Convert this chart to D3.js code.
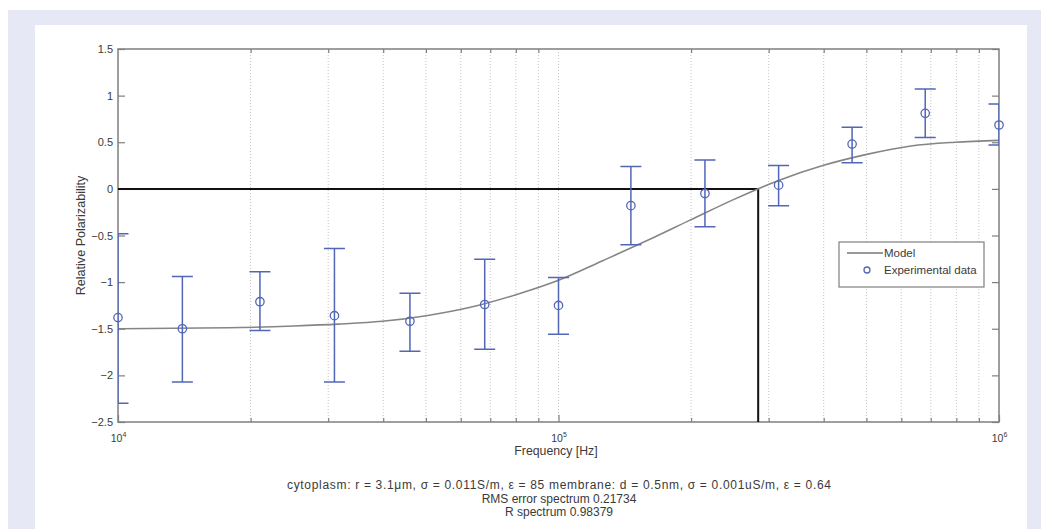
<!DOCTYPE html>
<html>
<head>
<meta charset="utf-8">
<script src="https://cdn.jsdelivr.net/npm/d3@7"></script>
<style>
  html, body { margin: 0; padding: 0; background: #fff; }
  svg { display: block; font-family: "Liberation Sans", Arial, sans-serif; }
</style>
</head>
<body>
<div id="app"></div>
<script>
// experimental points (frequency in Hz, relative polarizability, error bar ends)
const expFreq = [1e4, 1.4e4, 2.1e4, 3.1e4, 4.6e4, 6.8e4, 1e5, 1.46e5, 2.15e5, 3.16e5, 4.64e5, 6.8e5, 1e6]
const expValue = [-1.38, -1.5, -1.21, -1.36, -1.42, -1.24, -1.25, -0.18, -0.05, 0.04, 0.48, 0.81, 0.685]
const expHigh = [-0.48, -0.94, -0.89, -0.64, -1.12, -0.755, -0.95, 0.24, 0.31, 0.25, 0.66, 1.07, 0.91]
const expLow = [-2.3, -2.07, -1.52, -2.07, -1.74, -1.72, -1.56, -0.6, -0.405, -0.18, 0.28, 0.55, 0.47]

// model curve
const modelFreq = [1e4, 1.78e4, 2.51e4, 3.16e4, 3.98e4, 5.01e4, 6.31e4, 7.94e4, 1e5, 1.26e5, 1.58e5, 2e5, 2.51e5, 3.16e5, 3.98e5, 5.01e5, 6.31e5, 7.94e5, 1e6]
const modelValue = [-1.5, -1.49, -1.47, -1.45, -1.42, -1.36, -1.27, -1.14, -0.98, -0.77, -0.56, -0.33, -0.11, 0.09, 0.25, 0.37, 0.46, 0.5, 0.52]

// crossover frequency where the model passes 0
const crossFreq = 2.84e5

const yTicks = [1.5, 1, 0.5, 0, -0.5, -1, -1.5, -2, -2.5]
const xMajor = [1e4, 1e5, 1e6]
const xMinor = [2e4, 3e4, 4e4, 5e4, 6e4, 7e4, 8e4, 9e4, 2e5, 3e5, 4e5, 5e5, 6e5, 7e5, 8e5, 9e5]

const captionLines = [
  'cytoplasm: r = 3.1μm, σ = 0.011S/m, ε = 85 membrane: d = 0.5nm, σ = 0.001uS/m, ε = 0.64',
  'RMS error spectrum 0.21734',
  'R spectrum 0.98379',
]

const W = 1041, H = 529
const plot = { left: 118, right: 999, top: 49, bottom: 422 }
const axisColor = '#7f7f7f'
const textColor = '#3a3a3a'
const blue = '#5266b8'

const svg = d3.select('#app').append('svg').attr('width', W).attr('height', H)

// page backdrop
svg.append('rect').attr('x', 8).attr('y', 10).attr('width', W - 8).attr('height', H - 10).attr('fill', '#e6e9f5')
svg.append('rect').attr('x', 35).attr('y', 25).attr('width', 1027 - 35).attr('height', H - 25).attr('fill', '#fff')

const x = d3.scaleLog().domain([1e4, 1e6]).range([plot.left, plot.right])
const y = d3.scaleLinear().domain([-2.5, 1.5]).range([plot.bottom, plot.top])

// dotted vertical grid
svg.append('g')
  .selectAll('line')
  .data(xMinor.concat([1e5]))
  .join('line')
  .attr('x1', (d) => x(d)).attr('x2', (d) => x(d))
  .attr('y1', plot.top).attr('y2', plot.bottom)
  .attr('stroke', '#c4c4c4')
  .attr('stroke-width', 1)
  .attr('stroke-dasharray', '1,2')

// axes box + ticks
const styleAxis = (g) => {
  g.select('.domain').remove()
  g.selectAll('line').attr('stroke', axisColor).attr('stroke-width', 1.2)
  g.selectAll('text').attr('fill', textColor).attr('font-size', 11)
}

svg.append('g')
  .attr('transform', `translate(${plot.left},0)`)
  .call(d3.axisLeft(y).tickValues(yTicks).tickSize(-7).tickPadding(5).tickFormat(d3.format('')))
  .call(styleAxis)
svg.append('g')
  .attr('transform', `translate(${plot.right},0)`)
  .call(d3.axisRight(y).tickValues(yTicks).tickSize(-7).tickFormat(''))
  .call(styleAxis)

svg.append('g')
  .attr('transform', `translate(0,${plot.bottom})`)
  .call(d3.axisBottom(x).tickValues(xMinor).tickSize(-4).tickFormat(''))
  .call(styleAxis)
svg.append('g')
  .attr('transform', `translate(0,${plot.top})`)
  .call(d3.axisTop(x).tickValues(xMinor).tickSize(-4).tickFormat(''))
  .call(styleAxis)

const bottomAxis = svg.append('g')
  .attr('transform', `translate(0,${plot.bottom})`)
  .call(d3.axisBottom(x).tickValues(xMajor).tickSize(-7).tickFormat(''))
  .call(styleAxis)

// 10^n labels
bottomAxis.selectAll('.tick')
  .append('text')
  .attr('y', 20)
  .attr('text-anchor', 'middle')
  .attr('fill', textColor)
  .attr('font-size', 10.5)
  .each(function (d) {
    const t = d3.select(this)
    t.append('tspan').text('10')
    t.append('tspan').attr('dy', -5).attr('font-size', 7).text(Math.round(Math.log10(d)))
  })

svg.append('rect')
  .attr('x', plot.left).attr('y', plot.top)
  .attr('width', plot.right - plot.left).attr('height', plot.bottom - plot.top)
  .attr('fill', 'none').attr('stroke', axisColor).attr('stroke-width', 1.5)

// axis titles
svg.append('text')
  .attr('x', 556).attr('y', 455)
  .attr('text-anchor', 'middle').attr('font-size', 12.3).attr('fill', textColor)
  .text('Frequency [Hz]')

svg.append('text')
  .attr('transform', `translate(85,${(plot.top + plot.bottom) / 2}) rotate(-90)`)
  .attr('text-anchor', 'middle').attr('font-size', 12.6).attr('fill', textColor)
  .text('Relative Polarizability')

// crossover marker lines
svg.append('path')
  .attr('d', `M${plot.left},${y(0)}H${x(crossFreq)}V${plot.bottom}`)
  .attr('fill', 'none').attr('stroke', '#111').attr('stroke-width', 2)

// model
svg.append('path')
  .datum(modelFreq.map((f, i) => [f, modelValue[i]]))
  .attr('d', d3.line().x((d) => x(d[0])).y((d) => y(d[1])).curve(d3.curveMonotoneX))
  .attr('fill', 'none').attr('stroke', '#858585').attr('stroke-width', 1.6)

// error bars, clipped to the axes
svg.append('clipPath').attr('id', 'plot-clip')
  .append('rect')
  .attr('x', plot.left).attr('y', plot.top)
  .attr('width', plot.right - plot.left).attr('height', plot.bottom - plot.top)

const points = expFreq.map((f, i) => ({ f, v: expValue[i], hi: expHigh[i], lo: expLow[i] }))
const capW = 10.5

svg.append('g')
  .attr('clip-path', 'url(#plot-clip)')
  .selectAll('path')
  .data(points)
  .join('path')
  .attr('d', (d) => {
    const cx = x(d.f)
    return `M${cx - capW},${y(d.hi)}H${cx + capW}M${cx},${y(d.hi)}V${y(d.lo)}M${cx - capW},${y(d.lo)}H${cx + capW}`
  })
  .attr('fill', 'none').attr('stroke', blue).attr('stroke-width', 1.5)

svg.append('g')
  .selectAll('circle')
  .data(points)
  .join('circle')
  .attr('cx', (d) => x(d.f)).attr('cy', (d) => y(d.v))
  .attr('r', 4.2)
  .attr('fill', 'none').attr('stroke', blue).attr('stroke-width', 1.3)

// legend
const legend = svg.append('g').attr('transform', 'translate(839,242)')
legend.append('rect').attr('width', 145).attr('height', 45)
  .attr('fill', '#fff').attr('stroke', axisColor).attr('stroke-width', 1.2)
legend.append('line').attr('x1', 8).attr('x2', 44).attr('y1', 11).attr('y2', 11)
  .attr('stroke', '#333').attr('stroke-width', 1)
legend.append('text').attr('x', 45).attr('y', 15).attr('font-size', 11.5).attr('fill', textColor).text('Model')
legend.append('circle').attr('cx', 28).attr('cy', 28).attr('r', 3)
  .attr('fill', 'none').attr('stroke', blue).attr('stroke-width', 1.3)
legend.append('text').attr('x', 45).attr('y', 32).attr('font-size', 11.5).attr('fill', textColor).text('Experimental data')

// caption under the chart; the first line is set wider in the original
svg.append('g')
  .selectAll('text')
  .data(captionLines)
  .join('text')
  .attr('x', 559).attr('y', (d, i) => 489 + i * 13.5)
  .attr('text-anchor', 'middle').attr('font-size', 12).attr('fill', textColor)
  .attr('textLength', (d, i) => (i === 0 ? 544 : null))
  .attr('lengthAdjust', 'spacing')
  .text((d) => d)
</script>
</body>
</html>
